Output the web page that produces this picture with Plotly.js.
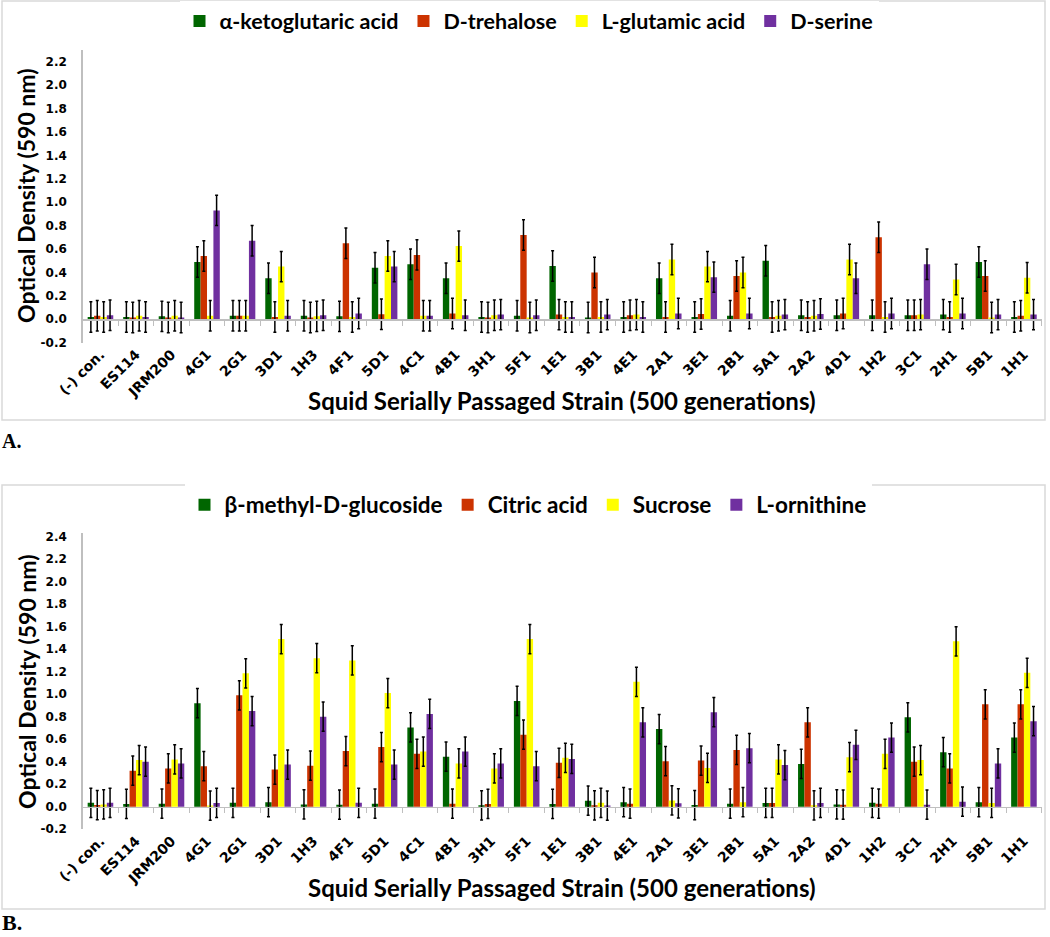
<!DOCTYPE html>
<html>
<head>
<meta charset="utf-8">
<script src="https://cdn.plot.ly/plotly-3.0.1.min.js"></script>
<style>html,body{margin:0;padding:0;background:#fff;}#chart{width:1050px;height:937px;}</style>
</head>
<body>
<div id="chart"></div>
<script>
const strains = ["(-) con.","ES114","JRM200","4G1","2G1","3D1","1H3","4F1","5D1","4C1","4B1","3H1","5F1","1E1","3B1","4E1","2A1","3E1","2B1","5A1","2A2","4D1","1H2","3C1","2H1","5B1","1H1"];

// Panel A
const seriesNamesA = ["α-ketoglutaric acid","D-trehalose","L-glutamic acid","D-serine"];
const ketoglutaric = [0.02,0.02,0.025,0.49,0.03,0.35,0.03,0.025,0.44,0.47,0.35,0.02,0.03,0.455,0.015,0.02,0.35,0.02,0.03,0.50,0.035,0.035,0.035,0.035,0.04,0.49,0.02];
const trehalose    = [0.03,0.015,0.015,0.54,0.03,0.02,0.015,0.65,0.043,0.55,0.05,0.015,0.72,0.04,0.40,0.035,0.02,0.045,0.37,0.02,0.02,0.05,0.70,0.035,0.02,0.37,0.03];
const glutamic     = [0.02,0.03,0.03,0.03,0.03,0.45,0.025,0.02,0.54,0.03,0.625,0.035,0.015,0.02,0.02,0.04,0.51,0.45,0.40,0.03,0.03,0.51,0.02,0.04,0.34,0.015,0.355];
const serine       = [0.035,0.02,0.015,0.93,0.67,0.03,0.035,0.05,0.45,0.03,0.035,0.04,0.035,0.02,0.04,0.02,0.05,0.36,0.05,0.04,0.045,0.35,0.05,0.47,0.05,0.04,0.04];
const errorA = 0.13;

// Panel B
const seriesNamesB = ["β-methyl-D-glucoside","Citric acid","Sucrose","L-ornithine"];
const methylGlucoside = [0.035,0.025,0.027,0.92,0.035,0.04,0.02,0.018,0.027,0.705,0.445,0.012,0.94,0.024,0.053,0.04,0.69,0.015,0.027,0.033,0.38,0.02,0.035,0.795,0.485,0.04,0.615];
const citricAcid      = [0.015,0.32,0.34,0.36,0.99,0.33,0.365,0.495,0.53,0.47,0.027,0.024,0.64,0.39,0.012,0.027,0.405,0.41,0.505,0.033,0.75,0.018,0.027,0.40,0.34,0.91,0.91];
const sucrose         = [0.02,0.415,0.42,0.01,1.185,1.49,1.32,1.30,1.01,0.49,0.385,0.34,1.49,0.435,0.035,1.11,0.056,0.345,0.04,0.42,0.012,0.44,0.47,0.415,1.47,0.033,1.19];
const ornithine       = [0.035,0.40,0.385,0.033,0.85,0.375,0.80,0.035,0.375,0.825,0.49,0.385,0.36,0.425,0.01,0.75,0.03,0.84,0.52,0.37,0.033,0.55,0.615,0.018,0.045,0.385,0.76];
const errorB = 0.13;

const colors = ["#006600","#cc3300","#ffff00","#7030a0"];
const yTicks = [-0.2,0.0,0.2,0.4,0.6,0.8,1.0,1.2,1.4,1.6,1.8,2.0,2.2];
const yTicksB = [-0.2,0.0,0.2,0.4,0.6,0.8,1.0,1.2,1.4,1.6,1.8,2.0,2.2,2.4];

const FONT = "Lato, 'Open Sans', sans-serif";
const TICKFONT = "'DejaVu Sans', sans-serif";
const W = 1050, H = 937;
const px = x => x / W;
const py = y => 1 - y / H;

const traces = [];
const dataA = [ketoglutaric, trehalose, glutamic, serine];
const dataB = [methylGlucoside, citricAcid, sucrose, ornithine];
function addBars(data, names, err, xa, ya, leg) {
  data.forEach((vals, i) => {
    traces.push({
      type: "bar", x: strains, y: vals, name: names[i],
      xaxis: xa, yaxis: ya, legend: leg,
      marker: {color: colors[i], line: {width: 0}},
      error_y: {type: "constant", value: err, color: "#000", thickness: 1.5, width: 1.5},
      hoverinfo: "x+y+name"
    });
  });
}
addBars(dataA, seriesNamesA, errorA, "x", "y", "legend");
addBars(dataB, seriesNamesB, errorB, "x2", "y2", "legend2");
// invisible helper traces so the zero-line category axes are drawn
traces.push({type: "scatter", x: strains, y: strains.map(() => null), xaxis: "x3", yaxis: "y", showlegend: false, hoverinfo: "skip"});
traces.push({type: "scatter", x: strains, y: strains.map(() => null), xaxis: "x4", yaxis: "y2", showlegend: false, hoverinfo: "skip"});

const xDom = [px(82.7), px(1041.7)];
const domA = [py(342.7), py(50)];
const domB = [py(829.2), py(533.3)];
const rangeA = [-0.2, 2.3];
const rangeB = [-0.2, 2.43];
const zeroA = domA[0] + (0 - rangeA[0]) / (rangeA[1] - rangeA[0]) * (domA[1] - domA[0]);
const zeroB = domB[0] + (0 - rangeB[0]) / (rangeB[1] - rangeB[0]) * (domB[1] - domB[0]);

const xTickFont = {family: TICKFONT, size: 14, color: "#000", weight: "bold"};
const yTickFont = {family: TICKFONT, size: 12, color: "#000", weight: "bold"};
const xLabelAxis = (anchor) => ({
  domain: xDom, anchor: anchor, type: "category", tickangle: -45,
  showline: false, showgrid: false, zeroline: false, ticks: "", tickfont: xTickFont,
  fixedrange: true
});
const zeroAxis = (match, anchor, pos) => ({
  domain: xDom, matches: match, overlaying: match, anchor: "free", position: pos,
  type: "category", showticklabels: false, showline: true, linecolor: "#bfbfbf", linewidth: 1.5,
  ticks: "outside", tickson: "boundaries", ticklen: 5, tickcolor: "#bfbfbf", tickwidth: 1,
  showgrid: false, zeroline: false
});
const yAxis = (dom, range, tv, anchor) => ({
  domain: dom, range: range, anchor: anchor, tickvals: tv,
  ticktext: tv.map(v => v.toFixed(1)),
  showline: true, linecolor: "#bfbfbf", linewidth: 1.5, showgrid: false, zeroline: false,
  ticks: "", ticklabelstandoff: 12, tickfont: yTickFont
});

const xTitleFont = {family: FONT, size: 24, color: "#000", weight: "bold"};
const yTitleFont = {family: FONT, size: 23, color: "#000", weight: "bold"};
const layout = {
  width: W, height: H,
  margin: {l: 0, r: 0, t: 0, b: 0},
  paper_bgcolor: "#fff", plot_bgcolor: "rgba(0,0,0,0)",
  barmode: "group", bargap: 0.28, bargroupgap: 0,
  showlegend: true,
  xaxis: xLabelAxis("y"),
  xaxis2: xLabelAxis("y2"),
  xaxis3: zeroAxis("x", "free", zeroA),
  xaxis4: zeroAxis("x2", "free", zeroB),
  yaxis: yAxis(domA, rangeA, yTicks, "x"),
  yaxis2: yAxis(domB, rangeB, yTicksB, "x2"),
  legend: {orientation: "h", x: px(529), xanchor: "center", y: py(21), yanchor: "middle",
           font: {family: FONT, size: 21.5, color: "#000", weight: "bold"}, itemwidth: 30, traceorder: "normal"},
  legend2: {orientation: "h", x: px(528), xanchor: "center", y: py(505), yanchor: "middle",
            font: {family: FONT, size: 22.5, color: "#000", weight: "bold"}, itemwidth: 30, traceorder: "normal"},
  shapes: [
    {type: "rect", xref: "paper", yref: "paper", x0: px(2), x1: px(1045), y0: py(420), y1: py(1), line: {color: "#d9d9d9", width: 1.5}},
    {type: "rect", xref: "paper", yref: "paper", x0: px(2), x1: px(1045), y0: py(909), y1: py(485), line: {color: "#d9d9d9", width: 1.5}}
  ],
  annotations: [
    {text: "Squid Serially Passaged Strain (500 generations)", xref: "paper", yref: "paper", x: px(561), y: py(401), xanchor: "center", yanchor: "middle", showarrow: false, font: xTitleFont},
    {text: "Squid Serially Passaged Strain (500 generations)", xref: "paper", yref: "paper", x: px(561), y: py(887), xanchor: "center", yanchor: "middle", showarrow: false, font: xTitleFont},
    {text: "Optical Density (590 nm)", xref: "paper", yref: "paper", x: px(26), y: py(196), xanchor: "center", yanchor: "middle", textangle: -90, showarrow: false, font: yTitleFont},
    {text: "Optical Density (590 nm)", xref: "paper", yref: "paper", x: px(27), y: py(682), xanchor: "center", yanchor: "middle", textangle: -90, showarrow: false, font: yTitleFont},
    {text: "A.", xref: "paper", yref: "paper", x: px(0), y: py(441), xanchor: "left", yanchor: "middle", showarrow: false, font: {family: "'Liberation Serif', serif", size: 20, color: "#000", weight: "bold"}},
    {text: "B.", xref: "paper", yref: "paper", x: px(0), y: py(922), xanchor: "left", yanchor: "middle", showarrow: false, font: {family: "'Liberation Serif', serif", size: 22, color: "#000", weight: "bold"}}
  ]
};

Plotly.newPlot("chart", traces, layout, {displayModeBar: false, staticPlot: true});
</script>
</body>
</html>
